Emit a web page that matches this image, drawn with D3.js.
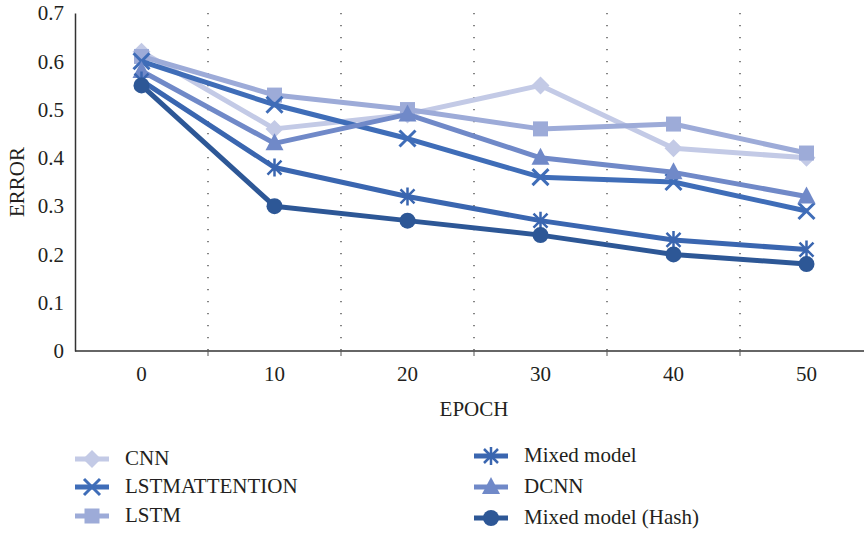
<!DOCTYPE html>
<html>
<head>
<meta charset="utf-8">
<script src="https://cdn.jsdelivr.net/npm/d3@7"></script>
<style>
  html, body { margin: 0; padding: 0; background: #fff; }
</style>
</head>
<body>
<svg id="chart" width="864" height="533"></svg>
<script>
// Epochs and error values per model
const epochs = ["0", "10", "20", "30", "40", "50"];
const yTicks = [0, 0.1, 0.2, 0.3, 0.4, 0.5, 0.6, 0.7];

const cnn           = [0.62, 0.46, 0.49, 0.55, 0.42, 0.40];
const lstmAttention = [0.60, 0.51, 0.44, 0.36, 0.35, 0.29];
const lstm          = [0.61, 0.53, 0.50, 0.46, 0.47, 0.41];
const mixedModel    = [0.56, 0.38, 0.32, 0.27, 0.23, 0.21];
const dcnn          = [0.58, 0.43, 0.49, 0.40, 0.37, 0.32];
const mixedHash     = [0.55, 0.30, 0.27, 0.24, 0.20, 0.18];

const series = [
  { name: "CNN",                values: cnn,           color: "#c3cae6", marker: "diamond" },
  { name: "LSTM",               values: lstm,          color: "#9dabd8", marker: "square" },
  { name: "LSTMATTENTION",      values: lstmAttention, color: "#3f6db8", marker: "x" },
  { name: "DCNN",               values: dcnn,          color: "#7089c8", marker: "triangle" },
  { name: "Mixed model",        values: mixedModel,    color: "#3a66b0", marker: "asterisk" },
  { name: "Mixed model (Hash)", values: mixedHash,     color: "#2d5796", marker: "circle" }
];

const legendLeft  = ["CNN", "LSTMATTENTION", "LSTM"];
const legendRight = ["Mixed model", "DCNN", "Mixed model (Hash)"];

const FONT = "Liberation Serif";
const FS = 21;
const INK = "#231f20";
const svg = d3.select("#chart");
const plotL = 75, plotT = 13, plotB = 351, plotR = 873;

const x = d3.scaleBand().domain(epochs).range([plotL, plotR]);
const y = d3.scaleLinear().domain([0, 0.7]).range([plotB, plotT]);

// dotted separators between epoch bands
const bounds = epochs.slice(1).map(e => x(e));
svg.append("g").selectAll("line").data(bounds).join("line")
  .attr("x1", d => d).attr("x2", d => d)
  .attr("y1", plotT).attr("y2", plotB)
  .attr("stroke", "#444").attr("stroke-width", 1.3)
  .attr("stroke-dasharray", "1.3 10.7");

// axes
const xAxis = svg.append("g").attr("transform", `translate(0,${plotB})`)
  .call(d3.axisBottom(x).tickSize(0).tickPadding(15));
xAxis.select(".domain").remove();
xAxis.append("line").attr("x1", plotL).attr("x2", 864).attr("y1", 0).attr("y2", 0)
  .attr("stroke", "#333").attr("stroke-width", 1.5);
xAxis.selectAll(".sep").data(bounds).join("line").attr("class", "sep")
  .attr("x1", d => d).attr("x2", d => d).attr("y1", 0).attr("y2", 5)
  .attr("stroke", "#555").attr("stroke-width", 1);
xAxis.selectAll(".tick text").attr("font-size", FS).attr("font-family", FONT).attr("fill", INK);

const yAxis = svg.append("g").attr("transform", `translate(${plotL},0)`)
  .call(d3.axisLeft(y).tickValues(yTicks).tickFormat(d => d === 0 ? "0" : d3.format(".1f")(d)).tickSize(0).tickPadding(11));
yAxis.select(".domain").attr("stroke", "#333").attr("stroke-width", 1.5);
yAxis.selectAll(".tick text").attr("font-size", FS).attr("font-family", FONT).attr("fill", INK);

svg.append("text").attr("x", x("20") + x.bandwidth()).attr("y", 416)
  .attr("text-anchor", "middle").attr("font-size", FS).attr("font-family", FONT).attr("fill", INK).text("EPOCH");
svg.append("text").attr("transform", "translate(24,182) rotate(-90)")
  .attr("text-anchor", "middle").attr("font-size", FS).attr("font-family", FONT).attr("fill", INK).text("ERROR");

// marker drawing
function drawMarker(g, type, color, cx, cy) {
  const s = 7.5;
  if (type === "diamond") {
    g.append("path").attr("d", `M${cx},${cy - 9}L${cx + 9},${cy}L${cx},${cy + 9}L${cx - 9},${cy}Z`).attr("fill", color);
  } else if (type === "square") {
    g.append("rect").attr("x", cx - s).attr("y", cy - s).attr("width", 2 * s).attr("height", 2 * s).attr("fill", color);
  } else if (type === "triangle") {
    g.append("path").attr("d", `M${cx},${cy - 10}L${cx + 9},${cy + 7}L${cx - 9},${cy + 7}Z`).attr("fill", color);
  } else if (type === "circle") {
    g.append("circle").attr("cx", cx).attr("cy", cy).attr("r", 8).attr("fill", color);
  } else if (type === "x") {
    g.append("path").attr("d", `M${cx - 8},${cy - 8}L${cx + 8},${cy + 8}M${cx - 8},${cy + 8}L${cx + 8},${cy - 8}`)
      .attr("stroke", color).attr("stroke-width", 3);
  } else if (type === "asterisk") {
    g.append("path").attr("d", `M${cx - 7},${cy - 7}L${cx + 7},${cy + 7}M${cx - 7},${cy + 7}L${cx + 7},${cy - 7}M${cx},${cy - 9}L${cx},${cy + 9}`)
      .attr("stroke", color).attr("stroke-width", 2.5);
  }
}

const line = d3.line().x((d, i) => x(epochs[i]) + x.bandwidth() / 2).y(d => y(d));

series.forEach(s => {
  const g = svg.append("g");
  g.append("path").attr("d", line(s.values)).attr("fill", "none")
    .attr("stroke", s.color).attr("stroke-width", 5).attr("stroke-linejoin", "round");
  s.values.forEach((v, i) => drawMarker(g, s.marker, s.color, x(epochs[i]) + x.bandwidth() / 2, y(v)));
});

// legend
function legendColumn(names, lx, ys) {
  names.forEach((n, i) => {
    const s = series.find(d => d.name === n);
    const g = svg.append("g");
    g.append("line").attr("x1", lx).attr("x2", lx + 34).attr("y1", ys[i]).attr("y2", ys[i])
      .attr("stroke", s.color).attr("stroke-width", 5);
    drawMarker(g, s.marker, s.color, lx + 17, ys[i]);
    g.append("text").attr("x", lx + 50).attr("y", ys[i] + 6).attr("font-size", FS)
      .attr("font-family", FONT).attr("fill", INK).text(n);
  });
}
legendColumn(legendLeft, 75, [459, 487, 516]);
legendColumn(legendRight, 474, [456, 487, 518]);
</script>
</body>
</html>
